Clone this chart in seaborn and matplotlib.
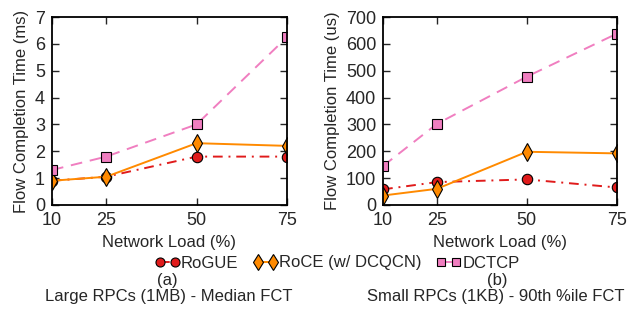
import matplotlib
matplotlib.use("Agg")
import matplotlib.pyplot as plt
import seaborn as sns
import pandas as pd
from matplotlib.lines import Line2D

loads = [10, 25, 50, 75]
series = ["RoGUE", "RoCE (w/ DCQCN)", "DCTCP"]
large_rogue = [0.9, 1.05, 1.8, 1.8]
large_roce = [0.9, 1.05, 2.3, 2.2]
large_dctcp = [1.3, 1.8, 3.0, 6.25]
small_rogue = [58, 85, 95, 65]
small_roce = [35, 60, 198, 192]
small_dctcp = [145, 302, 478, 638]

sns.set_style("ticks")
plt.rcParams['font.family'] = ['Liberation Sans', 'DejaVu Sans']

colors = {"RoGUE": "#e01b1b", "RoCE (w/ DCQCN)": "#ff8a00", "DCTCP": "#f07ec0"}
markers = {"RoGUE": "o", "RoCE (w/ DCQCN)": "d", "DCTCP": "s"}
msizes = {"RoGUE": 7.5, "RoCE (w/ DCQCN)": 9, "DCTCP": 7.5}
leg_msizes = {"RoGUE": 6.5, "RoCE (w/ DCQCN)": 8.5, "DCTCP": 6}
styles = {"RoGUE": (0, (5, 3, 1, 3)), "RoCE (w/ DCQCN)": '-', "DCTCP": (0, (6, 4))}

def make_df(a, b, c):
    rows = []
    for name, vals in zip(series, [a, b, c]):
        for x, v in zip(loads, vals):
            rows.append({"load": x, "fct": v, "proto": name})
    return pd.DataFrame(rows)

fig = plt.figure(figsize=(6.3, 3.1), dpi=100)
ax1 = fig.add_axes([0.0825, 0.339, 0.373, 0.606])
ax2 = fig.add_axes([0.608, 0.339, 0.371, 0.606])

def draw(ax, df, ymax, ystep, ylabel):
    for name in series:
        sub = df[df.proto == name]
        sns.lineplot(data=sub, x="load", y="fct", ax=ax, color=colors[name],
                     marker=markers[name], markersize=msizes[name],
                     markeredgecolor="black", markeredgewidth=0.8,
                     linestyle=styles[name], linewidth=1.4, legend=False)
    ax.set_xlim(10, 75)
    ax.set_ylim(0, ymax)
    ax.set_xticks(loads)
    ax.set_yticks(range(0, ymax + 1, ystep))
    ax.tick_params(direction="in", length=5, width=1, labelsize=13,
                   top=True, right=True, pad=5)
    for s in ax.spines.values():
        s.set_linewidth(1.3)
        s.set_color("black")
    ax.set_xlabel("")
    ax.set_ylabel(ylabel, fontsize=12, labelpad=4)

draw(ax1, make_df(large_rogue, large_roce, large_dctcp), 7, 1, "Flow Completion Time (ms)")
draw(ax2, make_df(small_rogue, small_roce, small_dctcp), 700, 100, "Flow Completion Time (us)")

def fy(py):
    return 1 - py / 310.0

fig.text(169 / 630, fy(243), "Network Load (%)", ha="center", va="center", fontsize=12)
fig.text(500 / 630, fy(243), "Network Load (%)", ha="center", va="center", fontsize=12)

handles = [Line2D([], [], color=colors[n], marker=markers[n], markersize=leg_msizes[n],
                  markeredgecolor="black", markeredgewidth=0.8, linewidth=1.4,
                  linestyle=styles[n])
           for n in series]
fig.legend(handles, series, loc="center", bbox_to_anchor=(337 / 630, fy(263)), ncol=3,
           frameon=False, numpoints=2, handlelength=1.5, handletextpad=0.05,
           columnspacing=0.9, fontsize=12, borderpad=0, borderaxespad=0)

fig.text(167 / 630, fy(280), "(a)", ha="center", va="center", fontsize=12)
fig.text(168.5 / 630, fy(297), "Large RPCs (1MB) - Median FCT", ha="center", va="center", fontsize=12)
fig.text(497 / 630, fy(280), "(b)", ha="center", va="center", fontsize=12)
fig.text(496 / 630, fy(297), "Small RPCs (1KB) - 90th %ile FCT", ha="center", va="center", fontsize=12)

fig.savefig("out.png", dpi=100)
